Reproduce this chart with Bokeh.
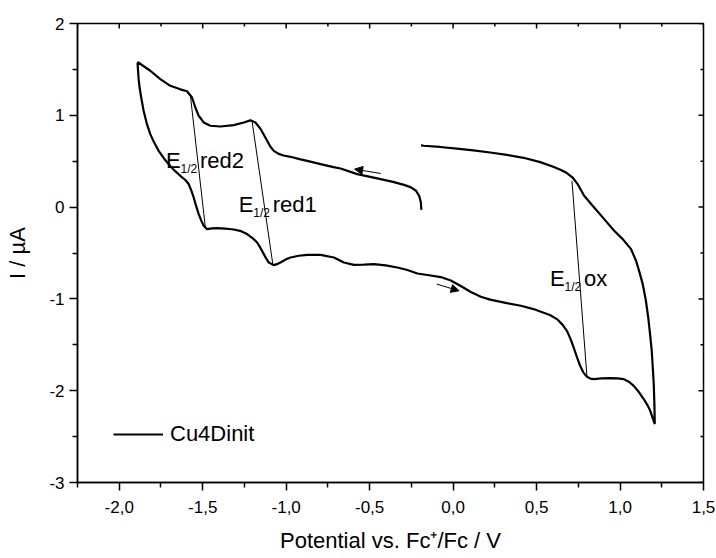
from math import pi

from bokeh.plotting import figure
from bokeh.models import (Range1d, FixedTicker, Arrow, NormalHead, Label,
                          Legend, LegendItem)
from bokeh.embed import file_html
from bokeh.resources import INLINE

# Cyclic voltammogram of Cu4Dinit: potential (V vs. Fc+/Fc) and current (µA)
potential = [
    -0.190, -0.193, -0.203, -0.222, -0.255, -0.294, -0.360, -0.434, -0.574, -0.674,
    -0.716, -0.794, -0.874, -0.914, -0.974, -1.016, -1.045, -1.074, -1.095, -1.114,
    -1.154, -1.184, -1.214, -1.254, -1.314, -1.394, -1.454, -1.494, -1.524, -1.544,
    -1.564, -1.594, -1.634, -1.694, -1.754, -1.814, -1.888,
    -1.890, -1.884, -1.878, -1.866, -1.854, -1.835, -1.814, -1.790, -1.764, -1.734,
    -1.704, -1.670, -1.634, -1.604, -1.584, -1.568, -1.554, -1.539, -1.524, -1.508,
    -1.494, -1.474, -1.444, -1.414, -1.364, -1.314, -1.270, -1.234, -1.200, -1.174,
    -1.154, -1.134, -1.118, -1.104, -1.074, -1.050, -1.034, -1.004, -0.974, -0.924,
    -0.874, -0.794, -0.714, -0.654, -0.594, -0.534, -0.474, -0.404, -0.334, -0.274,
    -0.214, -0.144, -0.074, -0.014, 0.046, 0.106, 0.166, 0.222, 0.322, 0.406,
    0.482, 0.526, 0.580, 0.622, 0.655, 0.682, 0.702, 0.722, 0.741, 0.761,
    0.780, 0.802, 0.822, 0.842, 0.890, 0.941, 0.985, 1.022, 1.055, 1.082,
    1.112, 1.142, 1.165, 1.181, 1.208,
    1.206, 1.202, 1.196, 1.190, 1.180, 1.169, 1.155, 1.136, 1.115, 1.096,
    1.066, 1.016, 0.965, 0.905, 0.845, 0.785, 0.746, 0.716, 0.676, 0.646,
    0.600, 0.522, 0.422, 0.322, 0.222, 0.122, 0.022, -0.078, -0.178, -0.192,
]
current = [
    -0.030, 0.050, 0.120, 0.178, 0.218, 0.242, 0.275, 0.305, 0.359, 0.420,
    0.435, 0.468, 0.504, 0.520, 0.548, 0.562, 0.580, 0.613, 0.660, 0.722,
    0.853, 0.922, 0.945, 0.922, 0.893, 0.878, 0.886, 0.922, 0.995, 1.085,
    1.194, 1.262, 1.283, 1.321, 1.394, 1.485, 1.578,
    1.560, 1.400, 1.300, 1.170, 1.049, 0.910, 0.795, 0.700, 0.613, 0.535,
    0.468, 0.400, 0.341, 0.295, 0.251, 0.180, 0.105, 0.010, -0.076, -0.150,
    -0.204, -0.240, -0.232, -0.230, -0.235, -0.244, -0.262, -0.294, -0.340, -0.386,
    -0.445, -0.512, -0.565, -0.604, -0.632, -0.618, -0.604, -0.572, -0.549, -0.530,
    -0.520, -0.520, -0.549, -0.604, -0.629, -0.626, -0.621, -0.635, -0.658, -0.685,
    -0.723, -0.742, -0.762, -0.800, -0.860, -0.925, -0.977, -1.008, -1.046, -1.075,
    -1.111, -1.140, -1.175, -1.220, -1.280, -1.348, -1.430, -1.529, -1.630, -1.729,
    -1.800, -1.849, -1.868, -1.874, -1.866, -1.863, -1.866, -1.874, -1.905, -1.947,
    -2.012, -2.091, -2.160, -2.219, -2.364,
    -2.150, -1.928, -1.745, -1.565, -1.385, -1.203, -1.020, -0.839, -0.700, -0.585,
    -0.458, -0.349, -0.258, -0.131, -0.004, 0.123, 0.251, 0.322, 0.377, 0.405,
    0.440, 0.490, 0.537, 0.568, 0.595, 0.618, 0.638, 0.655, 0.668, 0.675,
]

# Half-wave potential construction lines (anodic peak -> cathodic peak)
half_wave_names = ["red2", "red1", "ox"]
half_wave_x_top = [-1.574, -1.204, 0.712]
half_wave_i_top = [1.220, 0.932, 0.286]
half_wave_x_bottom = [-1.484, -1.080, 0.802]
half_wave_i_bottom = [-0.222, -0.621, -1.849]

# Scan-direction arrows
arrow_x_start = [-0.434, -0.098]
arrow_i_start = [0.366, -0.839]
arrow_x_end = [-0.590, 0.036]
arrow_i_end = [0.414, -0.912]

# Axis ranges and ticks
x_lo, x_hi = -2.25, 1.5
y_lo, y_hi = -3.0, 2.0
x_ticks = [-2.0, -1.5, -1.0, -0.5, 0.0, 0.5, 1.0, 1.5]
x_tick_labels = ["-2,0", "-1,5", "-1,0", "-0,5", "0,0", "0,5", "1,0", "1,5"]
x_minor_ticks = [-2.25, -1.75, -1.25, -0.75, -0.25, 0.25, 0.75, 1.25]
y_ticks = [-3, -2, -1, 0, 1, 2]
y_tick_labels = ["-3", "-2", "-1", "0", "1", "2"]
y_minor_ticks = [-2.5, -1.5, -0.5, 0.5, 1.5]

FONT = "Liberation Sans"

p = figure(width=716, height=558,
           x_range=Range1d(x_lo, x_hi), y_range=Range1d(y_lo, y_hi),
           output_backend="svg", toolbar_location=None,
           min_border_left=77, min_border_right=13,
           min_border_top=23, min_border_bottom=76)
p.xgrid.visible = False
p.ygrid.visible = False
p.outline_line_color = "black"
p.outline_line_width = 1.5
p.background_fill_color = "white"
p.border_fill_color = "white"


def style_axis(ax, ticks, minor, labels):
    ax.ticker = FixedTicker(ticks=ticks, minor_ticks=minor)
    ax.major_label_overrides = dict(zip(ticks, labels))
    ax.axis_line_color = "black"
    ax.axis_line_width = 1.5
    ax.major_tick_line_color = "black"
    ax.minor_tick_line_color = "black"
    ax.major_tick_line_width = 1.5
    ax.minor_tick_line_width = 1.5
    ax.major_tick_out = 8
    ax.major_tick_in = 0
    ax.minor_tick_out = 5
    ax.minor_tick_in = 0
    ax.major_label_text_font = FONT
    ax.major_label_text_font_size = "17px"
    ax.major_label_text_color = "black"
    ax.axis_label_text_font = FONT
    ax.axis_label_text_font_size = "22px"
    ax.axis_label_text_font_style = "normal"
    ax.axis_label_text_color = "black"


style_axis(p.xaxis[0], x_ticks, x_minor_ticks, x_tick_labels)
style_axis(p.yaxis[0], y_ticks, y_minor_ticks, y_tick_labels)
p.xaxis[0].major_label_standoff = 10
p.yaxis[0].major_label_standoff = 5
p.xaxis[0].axis_label = "Potential vs. Fc\u207a/Fc / V"
p.xaxis[0].axis_label_standoff = 12
p.yaxis[0].axis_label = "I / \u00b5A"
p.yaxis[0].axis_label_standoff = 16

# Inward mirror ticks on the top and right frame edges (clipped to the frame)
p.scatter(x_ticks, [y_hi] * len(x_ticks), marker="dash", angle=pi / 2,
          size=10, line_color="black", line_width=1.5)
p.scatter(x_minor_ticks, [y_hi] * len(x_minor_ticks), marker="dash",
          angle=pi / 2, size=6, line_color="black", line_width=1.5)
p.scatter([x_hi] * len(y_ticks), y_ticks, marker="dash", size=10,
          line_color="black", line_width=1.5)
p.scatter([x_hi] * len(y_minor_ticks), y_minor_ticks, marker="dash", size=6,
          line_color="black", line_width=1.5)

# Voltammogram trace
cv = p.line(potential, current, line_color="black", line_width=2.2)

# Half-wave construction lines
p.segment(x0=half_wave_x_top, y0=half_wave_i_top,
          x1=half_wave_x_bottom, y1=half_wave_i_bottom,
          line_color="black", line_width=1)

# Scan direction arrows
for xs, ys, xe, ye in zip(arrow_x_start, arrow_i_start, arrow_x_end, arrow_i_end):
    p.add_layout(Arrow(end=NormalHead(size=8, fill_color="black",
                                      line_color="black", line_width=1),
                       x_start=xs, y_start=ys, x_end=xe, y_end=ye,
                       line_color="black", line_width=1))

# E1/2 labels: "E", subscript "1/2", then the process name
label_anchor_x = [-1.720, -1.284, 0.581]
label_anchor_i = [0.504, 0.025, -0.778]
for name, lx, ly in zip(half_wave_names, label_anchor_x, label_anchor_i):
    p.add_layout(Label(x=lx, y=ly, text="E", text_font=FONT,
                       text_font_size="22px", text_color="black",
                       text_baseline="alphabetic"))
    p.add_layout(Label(x=lx, y=ly, x_offset=14.5, y_offset=-8, text="1/2",
                       text_font=FONT, text_font_size="12px",
                       text_color="black", text_baseline="alphabetic"))
    p.add_layout(Label(x=lx, y=ly, x_offset=34, text=name, text_font=FONT,
                       text_font_size="22px", text_color="black",
                       text_baseline="alphabetic"))

legend = Legend(items=[LegendItem(label="Cu4Dinit", renderers=[cv])],
                location=(36, 35), glyph_width=50, glyph_height=20,
                label_height=20, label_standoff=7, padding=0, margin=0,
                spacing=0, border_line_color=None, background_fill_alpha=0,
                label_text_font=FONT, label_text_font_size="22px",
                label_text_color="black")
p.add_layout(legend)

open("out.html", "w").write(file_html(p, INLINE))
